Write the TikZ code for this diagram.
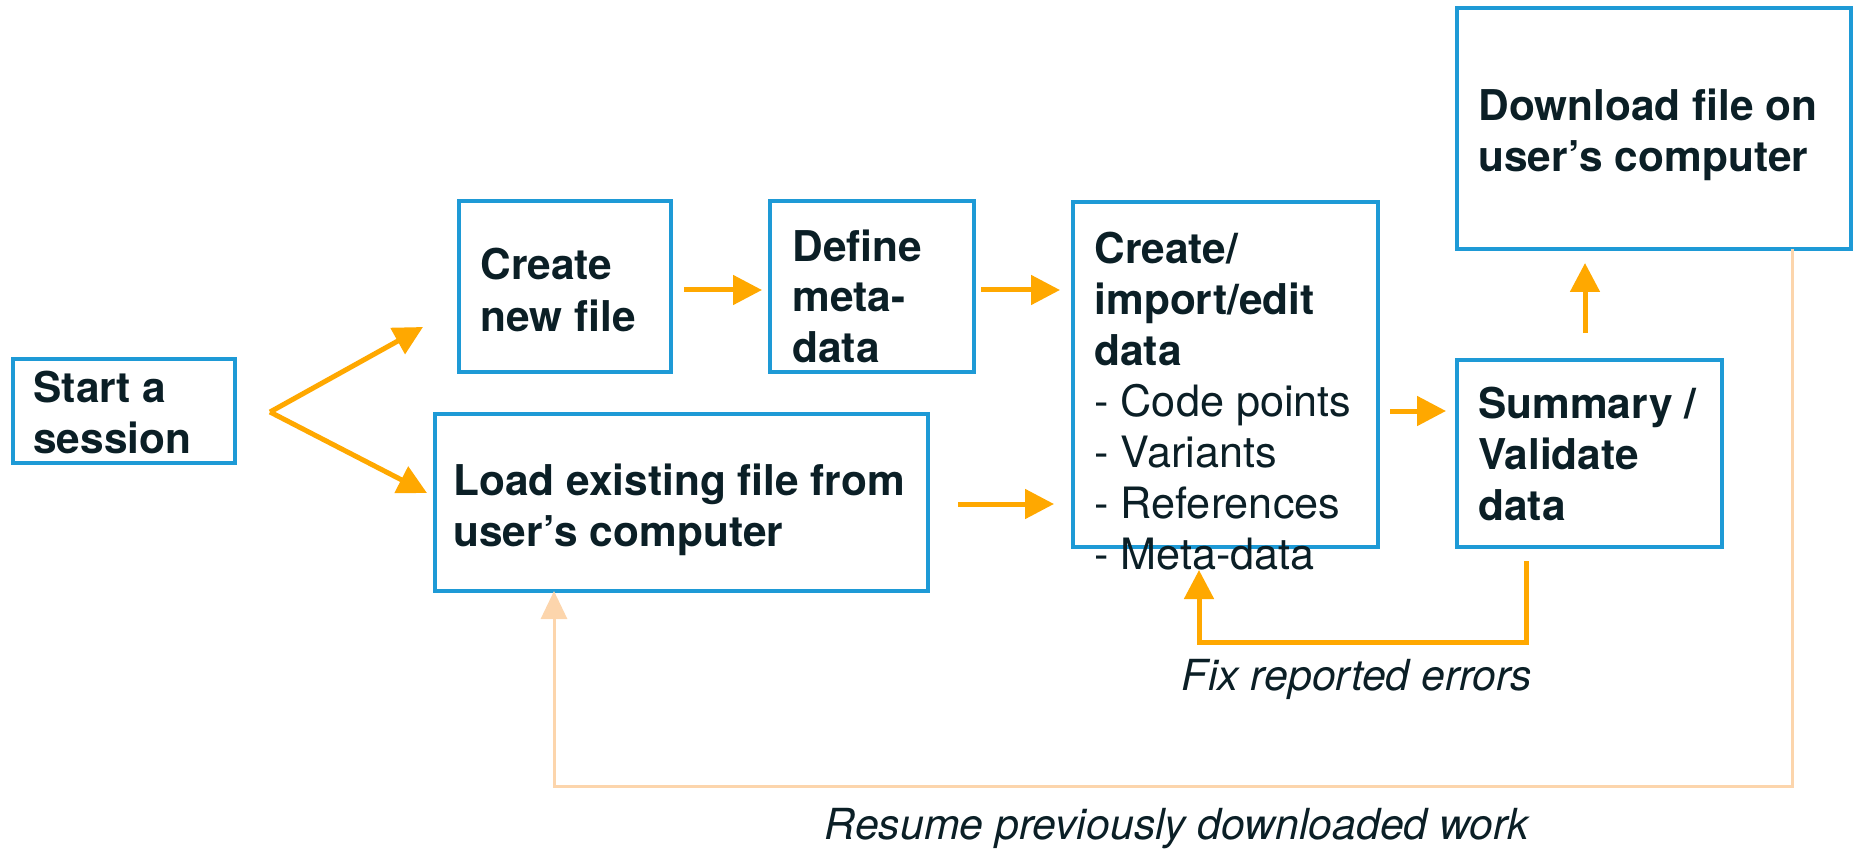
\documentclass[tikz,border=0pt]{standalone}
\usepackage{fontspec}
\setmainfont{TeX Gyre Heros}
\usetikzlibrary{arrows.meta,calc}
\definecolor{ink}{HTML}{0B1F26}
\definecolor{boxblue}{HTML}{1E9AD6}
\definecolor{flow}{HTML}{FFA800}
\definecolor{resume}{HTML}{FCD5AC}

\begin{document}
\begin{tikzpicture}[x=0.5pt,y=-0.5pt,
  box/.style={draw=boxblue, line width=1.7pt, rectangle, inner sep=0pt, outer sep=0pt, anchor=north west},
  % multi-line texts are placed by the baseline of their last line
  title/.style={anchor=base west, inner sep=0pt, align=left, text=ink,
    font=\fontsize{21.2}{25.5}\selectfont\bfseries},
  plain/.style={anchor=base west, inner sep=0pt, align=left, text=ink,
    font=\fontsize{21.6}{25.5}\selectfont},
  note/.style={anchor=base, inner sep=0pt, text=ink,
    font=\fontsize{21.4}{25.5}\selectfont\itshape},
  flowarrow/.style={draw=flow, line width=2.5pt, -{Triangle[length=14.5pt,width=14.5pt]}},
  resumearrow/.style={draw=resume, line width=1.5pt, -{Triangle[length=14pt,width=13pt]}}
]
\useasboundingbox (0,0) rectangle (1858,850);

% boxes
\node[box, minimum width=111pt,   minimum height=52pt]   (start) at (13,359)  {};
\node[box, minimum width=106pt,   minimum height=85.5pt] (newf)  at (459,201) {};
\node[box, minimum width=102pt,   minimum height=85.5pt] (meta)  at (770,201) {};
\node[box, minimum width=152.5pt, minimum height=172.5pt] (edit) at (1073,202) {};
\node[box, minimum width=246.5pt, minimum height=88.5pt] (load)  at (435,414) {};
\node[box, minimum width=132.5pt, minimum height=93.5pt] (summ)  at (1457,360) {};
\node[box, minimum width=197pt,   minimum height=120.5pt] (down) at (1457,8)  {};

% box texts
\node[title] (startT) at (33,453)   {Start a\\session};
\node[title] (newfT)  at (480,331)  {Create\\new file};
\node[title] (metaT)  at (792,363)  {Define\\meta-\\data};
\node[plain] (editT)  at (1094,569) {{\fontsize{21.2}{25.5}\selectfont\bfseries Create/}\\
  {\fontsize{21.2}{25.5}\selectfont\bfseries import/edit}\\
  {\fontsize{21.2}{25.5}\selectfont\bfseries data}\\
  - Code points\\- Variants\\- References\\- Meta-data};
\node[title] (loadT)  at (453,546)  {Load existing file from\\user’s computer};
\node[title] (summT)  at (1478,520) {Summary /\\Validate\\data};
\node[title] (downT)  at (1478,172) {Download file on\\user’s computer};

% forward flow
\coordinate (fork) at ($(start.east)+(35,1)$);
\draw[flowarrow] (fork) -- ($(newf.west)+(-36,40.5)$);
\draw[flowarrow] (fork) -- ($(load.west)+(-8,-9.5)$);
\draw[flowarrow] ($(newf.east)+(13,3.5)$) -- ($(meta.west)+(-8,3.5)$);
\draw[flowarrow] ($(meta.east)+(7,3.5)$) -- ($(edit.north west)+(-13,88)$);
\draw[flowarrow] ($(load.east)+(30,1.5)$) -- ($(edit.north west)+(-19,302)$);
\draw[flowarrow] ($(edit.east)+(12,36.5)$) -- ($(summ.west)+(-11,-42.5)$);
\draw[flowarrow] ($(summ.north west)+(128,-27)$) -- ($(down.south west)+(128,14)$);

% correction loop
\draw[flowarrow] ($(summ.south west)+(69,14)$) -- ++(0,81) -| ($(edit.south west)+(126,23)$);
\node[note] (fixT) at (1357,690) {Fix reported errors};

% resume loop
\draw[resumearrow] ($(down.south east)+(-59,0)$) -- ++(0,537) -| ($(load.south west)+(119,0)$);
\node[note] (resT) at (1177,839) {Resume previously downloaded work};
\end{tikzpicture}
\end{document}
